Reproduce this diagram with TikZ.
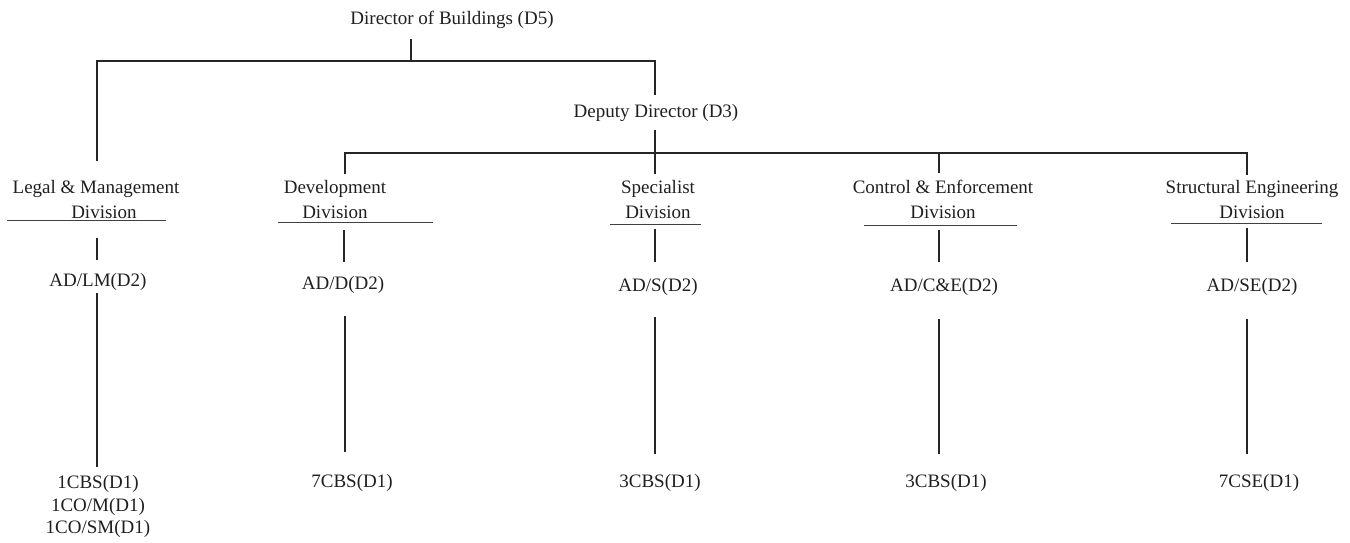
\documentclass[tikz,border=0pt]{standalone}
\usepackage{fontspec}
\setmainfont{Liberation Serif}
\begin{document}
\begin{tikzpicture}[x=1pt,y=-1pt,
  lbl/.style={inner sep=0pt, font=\fontsize{19}{25}\selectfont, align=center, text=black!88},
  lblb/.style={inner sep=0pt, font=\fontsize{19}{22.5}\selectfont, align=center, text=black!88},
  conn/.style={line width=1.2pt, black!85},
  uline/.style={line width=0.9pt, black!75}]
\useasboundingbox (0,0) rectangle (1350,543);
% text nodes
\node[lbl] (dir) at (452,20) {Director of Buildings (D5)};
\node[lbl] (dep) at (656,113) {Deputy Director (D3)};
\node[lbl] (lm)  at (96,199.5) {Legal \& Management\\\hspace*{16pt}Division};
\node[lbl] (dev) at (335,199.5) {Development\\Division};
\node[lbl] (spe) at (658,199.5) {Specialist\\Division};
\node[lbl] (ce)  at (943,199.5) {Control \& Enforcement\\Division};
\node[lbl] (se)  at (1252,199.5) {Structural Engineering\\Division};
\node[lbl] (adlm) at (98,282) {AD/LM(D2)};
\node[lbl] (add)  at (343,285) {AD/D(D2)};
\node[lbl] (ads)  at (658,287) {AD/S(D2)};
\node[lbl] (adce) at (944,287) {AD/C\&E(D2)};
\node[lbl] (adse) at (1252,287) {AD/SE(D2)};
\node[lblb,anchor=north] (blm) at (98,475.5) {1CBS(D1)\\1CO/M(D1)\\1CO/SM(D1)};
\node[lbl] (bd)  at (352,483) {7CBS(D1)};
\node[lbl] (bs)  at (660,483) {3CBS(D1)};
\node[lbl] (bce) at (946,483) {3CBS(D1)};
\node[lbl] (bse) at (1259,483) {7CSE(D1)};
% junction coordinates
\coordinate (dirB) at (411,39);
\coordinate (topM) at (411,61);
\coordinate (topL) at (97,61);
\coordinate (topR) at (655,61);
\coordinate (lmT) at (97,161);
\coordinate (depT) at (655,95);
\coordinate (depB) at (655,130);
\coordinate (speT) at (655,174);
\coordinate (brL) at (345,153);
\coordinate (brR) at (1247,153);
\coordinate (brC) at (939,153);
\coordinate (devT) at (345,174);
\coordinate (ceT) at (939,173);
\coordinate (seT) at (1247,175);
% upper tree
\draw[conn] (dirB) -- (topM);
\draw[conn] (lmT) -- (topL) -- (topR) -- (depT);
\draw[conn] (depB) -- (speT);
\draw[conn] (devT) -- (brL) -- (brR) -- (seT);
\draw[conn] (brC) -- (ceT);
% underlines
\draw[uline] (7,220) coordinate (ulm1) -- (166,220) coordinate (ulm2);
\draw[uline] (278,222) coordinate (udv1) -- (433,222) coordinate (udv2);
\draw[uline] (610,224) coordinate (usp1) -- (701,224) coordinate (usp2);
\draw[uline] (864,225) coordinate (uce1) -- (1017,225) coordinate (uce2);
\draw[uline] (1171,223) coordinate (use1) -- (1322,223) coordinate (use2);
% division to AD
\draw[conn] (97,238) coordinate (a1) -- (97,260) coordinate (a2);
\draw[conn] (344,230) coordinate (b1) -- (344,262) coordinate (b2);
\draw[conn] (655,229) coordinate (c1) -- (655,262) coordinate (c2);
\draw[conn] (939,230) coordinate (d1) -- (939,262) coordinate (d2);
\draw[conn] (1247,228) coordinate (e1) -- (1247,262) coordinate (e2);
% AD to staff
\draw[conn] (97,293) coordinate (f1) -- (97,467) coordinate (f2);
\draw[conn] (345,316) coordinate (g1) -- (345,452) coordinate (g2);
\draw[conn] (655,317) coordinate (h1) -- (655,454) coordinate (h2);
\draw[conn] (939,319) coordinate (i1) -- (939,454) coordinate (i2);
\draw[conn] (1247,319) coordinate (j1) -- (1247,454) coordinate (j2);
\end{tikzpicture}
\end{document}
